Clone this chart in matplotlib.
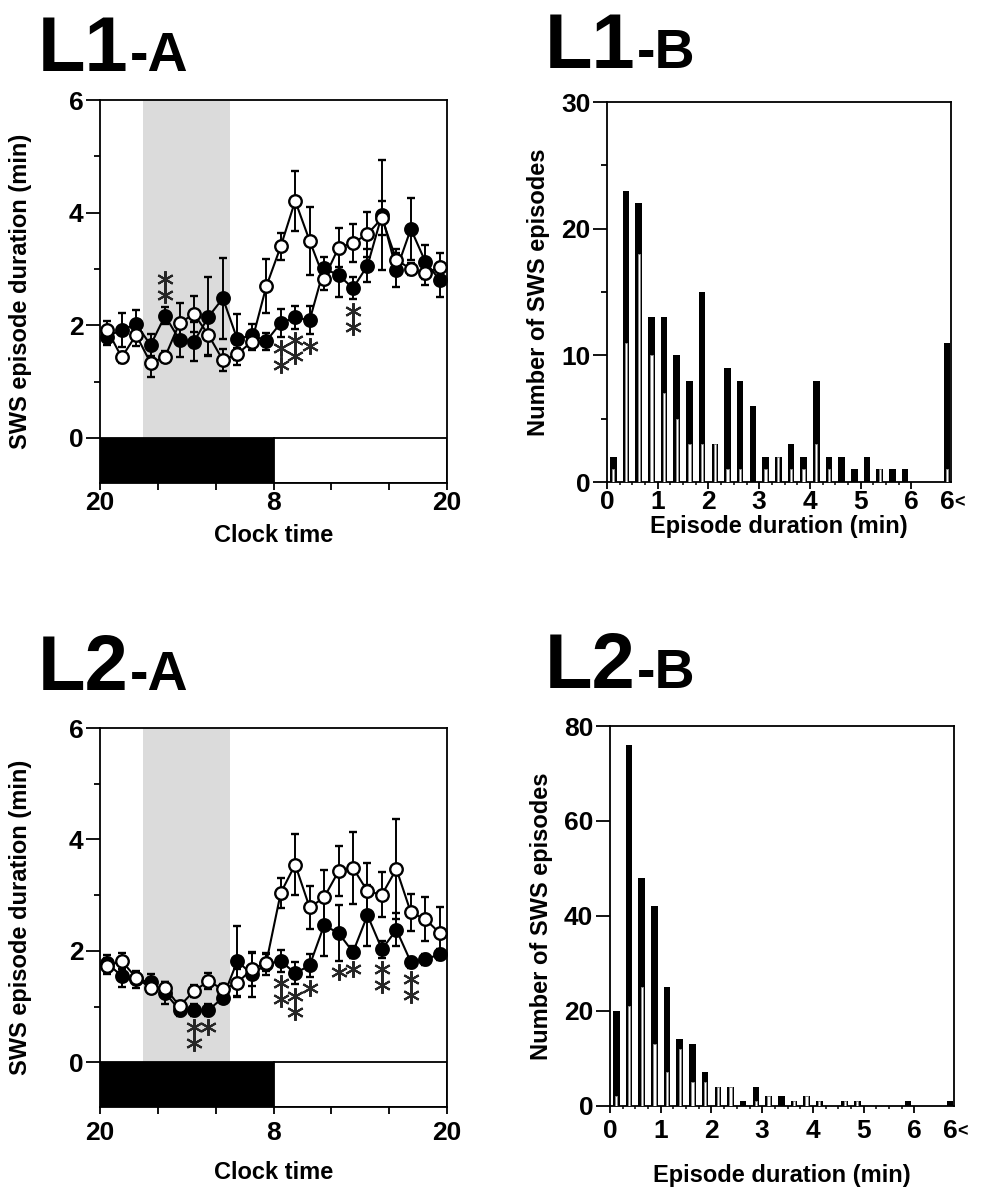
import numpy as np
import matplotlib.pyplot as plt
from matplotlib.patches import Rectangle
from matplotlib.ticker import FixedLocator, FixedFormatter, NullFormatter
import matplotlib.transforms as mtransforms

plt.rcParams['font.family'] = ['Liberation Sans', 'DejaVu Sans']
plt.rcParams['font.weight'] = 'bold'

# hourly bins, 20:00 -> 20:00
hours = np.arange(24) + 0.5

# L1 : filled = baseline, open = test day
l1_fill = [1.80, 1.92, 2.02, 1.65, 2.17, 1.74, 1.71, 2.15, 2.48, 1.75, 1.83, 1.72,
           2.04, 2.14, 2.09, 3.01, 2.89, 2.66, 3.06, 3.96, 2.98, 3.71, 3.13, 2.80]
l1_fill_err = [0.15, 0.30, 0.25, 0.20, 0.15, 0.30, 0.35, 0.70, 0.72, 0.45, 0.20, 0.15,
               0.25, 0.20, 0.25, 0.20, 0.38, 0.20, 0.30, 0.98, 0.30, 0.55, 0.30, 0.30]
l1_open = [1.92, 1.43, 1.83, 1.33, 1.44, 2.04, 2.20, 1.83, 1.38, 1.49, 1.71, 2.69,
           3.40, 4.21, 3.50, 2.83, 3.38, 3.46, 3.62, 3.90, 3.16, 3.00, 2.92, 3.04]
l1_open_err = [0.15, 0.10, 0.20, 0.25, 0.10, 0.35, 0.32, 0.35, 0.20, 0.10, 0.15, 0.48,
               0.24, 0.53, 0.60, 0.20, 0.35, 0.33, 0.40, 0.30, 0.20, 0.10, 0.20, 0.25]
# significance: (hour bin, number of asterisks, +1 above / -1 below)
l1_sig = [(4.5, 2, 1), (12.5, 2, -1), (13.5, 2, -1), (14.5, 1, -1), (17.5, 2, -1)]

l2_fill = [1.78, 1.55, 1.49, 1.44, 1.25, 0.94, 0.94, 0.94, 1.16, 1.82, 1.58, 1.76,
           1.82, 1.60, 1.74, 2.46, 2.32, 1.98, 2.64, 2.03, 2.38, 1.80, 1.85, 1.94]
l2_fill_err = [0.15, 0.20, 0.15, 0.15, 0.20, 0.10, 0.10, 0.10, 0.10, 0.63, 0.40, 0.20,
               0.20, 0.20, 0.20, 0.55, 0.50, 0.10, 0.55, 0.15, 0.30, 0.10, 0.10, 0.10]
l2_open = [1.73, 1.82, 1.52, 1.34, 1.34, 1.01, 1.28, 1.46, 1.31, 1.43, 1.67, 1.79,
           3.04, 3.55, 2.78, 2.96, 3.43, 3.49, 3.07, 3.01, 3.47, 2.69, 2.57, 2.32]
l2_open_err = [0.15, 0.15, 0.10, 0.10, 0.10, 0.10, 0.10, 0.15, 0.10, 0.25, 0.30, 0.15,
               0.27, 0.54, 0.39, 0.50, 0.45, 0.64, 0.50, 0.40, 0.90, 0.33, 0.39, 0.46]
l2_sig = [(6.5, 2, -1), (7.5, 1, -1), (12.5, 2, -1), (13.5, 2, -1), (14.5, 1, -1),
          (16.5, 1, -1), (17.5, 1, -1), (19.5, 2, -1), (21.5, 2, -1)]

# episode duration histograms, 15 s bins up to 6 min, plus ">6 min"
bins = np.arange(24) * 0.25 + 0.125
l1_total = [2, 23, 22, 13, 13, 10, 8, 15, 3, 9, 8, 6, 2, 2, 3, 2, 8, 2, 2, 1, 2, 1, 1, 1]
l1_part = [1, 11, 18, 10, 7, 5, 3, 3, 3, 1, 1, 0, 1, 2, 1, 1, 3, 1, 0, 0, 0, 1, 0, 0]
l1_over = (11, 1)
l2_total = [20, 76, 48, 42, 25, 14, 13, 7, 4, 4, 1, 4, 2, 2, 1, 2, 1, 0, 1, 1, 0, 0, 0, 1]
l2_part = [2, 21, 25, 13, 7, 12, 5, 5, 4, 4, 0, 1, 2, 0, 1, 2, 1, 0, 1, 1, 0, 0, 0, 0]
l2_over = (1, 0)

W, H = 990.0, 1188.0
fig = plt.figure(figsize=(W / 100, H / 100), dpi=100)


def box(x0, y0, x1, y1):
    return [x0 / W, 1 - y1 / H, (x1 - x0) / W, (y1 - y0) / H]


def panel_title(x, y, big, small):
    t = fig.text(x / W, 1 - y / H, big, fontsize=56, fontweight='bold', va='baseline')
    fig.canvas.draw()
    bb = t.get_window_extent()
    fig.text(bb.x1 / W + 0.001, 1 - y / H, small, fontsize=40, fontweight='bold', va='baseline')


def style_spines(ax):
    for s in ax.spines.values():
        s.set_linewidth(1.3)


def clock_panel(rect, fill, fill_err, opn, opn_err, sig, pad, lab_y):
    ax = fig.add_axes(rect)
    ax.set_xlim(0, 24)
    ax.set_ylim(-0.8, 6)
    ax.axvspan(3, 9, ymin=0.8 / 6.8, ymax=1, color='0.86', lw=0, zorder=0)
    ax.add_patch(Rectangle((0, -0.8), 12, 0.8, fc='k', ec='k', lw=1.3, zorder=1))
    ax.add_patch(Rectangle((12, -0.8), 12, 0.8, fc='w', ec='k', lw=1.3, zorder=1))
    kw = dict(fmt='-o', color='k', mec='k', ms=9, mew=1.7, lw=1.5,
              elinewidth=1.4, capsize=3.2, capthick=1.4)
    ax.errorbar(hours, fill, yerr=fill_err, mfc='k', zorder=3, **kw)
    ax.errorbar(hours, opn, yerr=opn_err, mfc='w', zorder=4, **kw)
    for h, n, side in sig:
        i = int(h)
        if side > 0:
            y0 = fill[i] + fill_err[i] + 0.22
        else:
            y0 = fill[i] - fill_err[i] - 0.2
        ys = [y0 + side * 0.29 * j for j in range(n)]
        ax.plot([h] * n, ys, ls='none', marker=(6, 2, 0), ms=12, mew=1.5,
                color='0.15', zorder=5)
    ax.yaxis.set_major_locator(FixedLocator([0, 2, 4, 6]))
    ax.yaxis.set_minor_locator(FixedLocator([1, 3, 5]))
    ax.xaxis.set_major_locator(FixedLocator([0, 12, 24]))
    ax.xaxis.set_major_formatter(FixedFormatter(['20', '8', '20']))
    ax.xaxis.set_minor_locator(FixedLocator([4, 8, 16, 20]))
    ax.tick_params(axis='y', which='major', direction='out', length=10, width=1.3,
                   labelsize=19, pad=2)
    ax.tick_params(axis='y', which='minor', direction='out', length=4, width=1.3)
    ax.tick_params(axis='x', which='both', direction='out', length=5, width=1.3,
                   labelsize=19, pad=pad)
    ax.set_ylabel('SWS episode duration (min)', fontsize=17, fontweight='bold')
    ax.yaxis.set_label_coords(-0.196, 0.5)
    ax.set_xlabel('Clock time', fontsize=17, fontweight='bold', va='center')
    ax.xaxis.set_label_coords(0.5, lab_y)
    style_spines(ax)
    return ax


def hist_panel(rect, total, part, over, ymax, ystep, yminor, pad, lab_y):
    ax = fig.add_axes(rect)
    ax.set_xlim(0, 6.78)
    ax.set_ylim(0, ymax)
    xs = list(bins) + [6.7]
    tot = list(total) + [over[0]]
    prt = list(part) + [over[1]]
    ax.bar(xs, tot, width=0.13, color='k', lw=0, zorder=2)
    keep = [j for j in range(len(xs)) if prt[j] > 0]
    ax.bar([xs[j] for j in keep], [prt[j] for j in keep], width=0.045,
           color='w', edgecolor='0.55', lw=0.7, zorder=3)
    ax.yaxis.set_major_locator(FixedLocator(np.arange(0, ymax + 1, ystep)))
    if yminor:
        ax.yaxis.set_minor_locator(FixedLocator(np.arange(ystep / 2, ymax, ystep)))
    ax.xaxis.set_major_locator(FixedLocator(range(7)))
    ax.xaxis.set_minor_locator(FixedLocator([v * 0.25 for v in range(25) if v % 4]))
    ax.xaxis.set_minor_formatter(NullFormatter())
    ax.tick_params(axis='y', which='major', direction='out', length=10, width=1.3,
                   labelsize=19, pad=2)
    ax.tick_params(axis='y', which='minor', direction='out', length=4, width=1.3)
    ax.tick_params(axis='x', which='major', direction='out', length=5, width=1.3,
                   labelsize=19, pad=pad)
    ax.tick_params(axis='x', which='minor', direction='out', length=2.5, width=1.1)
    trans = mtransforms.blended_transform_factory(ax.transData, ax.transAxes)
    fig.canvas.draw()
    bb = ax.get_xticklabels()[0].get_window_extent()
    yc = ax.transAxes.inverted().transform(((bb.x0 + bb.x1) / 2, (bb.y0 + bb.y1) / 2))[1]
    ax.text(6.7, yc, '6', transform=trans, ha='center', va='center', fontsize=19,
            fontweight='bold')
    ax.text(6.84, yc, '<', transform=trans, ha='left', va='center', fontsize=13,
            fontweight='bold', clip_on=False)
    ax.set_ylabel('Number of SWS episodes', fontsize=17, fontweight='bold')
    ax.yaxis.set_label_coords(-0.165, 0.5)
    ax.set_xlabel('Episode duration (min)', fontsize=17, fontweight='bold', va='center')
    ax.xaxis.set_label_coords(0.5, lab_y)
    style_spines(ax)
    return ax


clock_panel(box(100, 100, 447, 483), l1_fill, l1_fill_err, l1_open, l1_open_err,
            l1_sig, 1, -0.136)
hist_panel(box(607, 102, 951, 482), l1_total, l1_part, l1_over, 30, 10, True, 1, -0.118)
clock_panel(box(100, 728, 447, 1107), l2_fill, l2_fill_err, l2_open, l2_open_err,
            l2_sig, 5, -0.172)
hist_panel(box(610, 726, 954, 1105.6), l2_total, l2_part, l2_over, 80, 20, False, 5, -0.184)

panel_title(38, 71, 'L1', '-A')
panel_title(545, 68, 'L1', '-B')
panel_title(38, 690, 'L2', '-A')
panel_title(545, 688, 'L2', '-B')

fig.savefig('out.png', dpi=100)
